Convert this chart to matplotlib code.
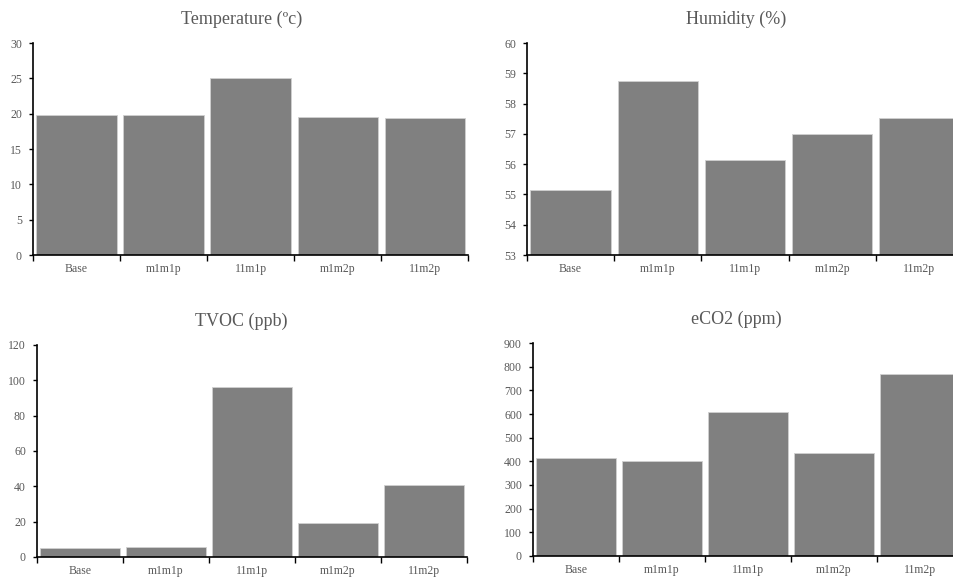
import matplotlib
matplotlib.use('Agg')
import matplotlib.pyplot as plt
import numpy as np

plt.rcParams['font.family'] = ['Liberation Serif', 'DejaVu Serif']

categories = ['Base', 'm1m1p', '11m1p', 'm1m2p', '11m2p']

temperature = [19.8, 19.8, 25.1, 19.6, 19.4]
humidity = [55.15, 58.75, 56.15, 57.0, 57.52]
tvoc = [5.3, 5.9, 96.0, 19.5, 40.7]
eco2 = [412, 401, 608, 435, 769]

titles = ['Temperature (ºc)', 'Humidity (%)', 'TVOC (ppb)', 'eCO2 (ppm)']
ylims = [(0, 30), (53, 60), (0, 120), (0, 900)]
ysteps = [5, 1, 20, 100]

text_color = '#595959'
bar_color = '#808080'

fig = plt.figure(figsize=(9.54, 5.8), dpi=100)

# axes rectangles (left, bottom, width, height) in figure fractions
rects = [
    [0.0346, 0.5603, 0.456, 0.3655],
    [0.5524, 0.5603, 0.457, 0.3655],
    [0.0388, 0.0397, 0.4507, 0.3655],
    [0.5587, 0.0414, 0.4507, 0.3672],
]
title_x = [0.48, 0.48, 0.474, 0.474]

data = [temperature, humidity, tvoc, eco2]
x = np.arange(len(categories))

for i, vals in enumerate(data):
    ax = fig.add_axes(rects[i])
    lo, hi = ylims[i]
    ax.bar(x, np.array(vals) - lo, bottom=lo, width=0.92, color=bar_color,
           edgecolor='#d0d0d0', linewidth=0.6)
    ax.set_xlim(-0.5, len(categories) - 0.5)
    ax.set_ylim(lo, hi)
    ax.set_yticks(np.arange(lo, hi + ysteps[i] / 2, ysteps[i]))

    # excel style: ticks between categories, labels centred
    ax.set_xticks(np.arange(-0.5, len(categories), 1.0))
    ax.set_xticklabels([])
    ax.set_xticks(x, minor=True)
    ax.set_xticklabels(categories, minor=True)
    ax.tick_params(axis='x', which='minor', length=0, pad=6,
                   labelsize=8.5, labelcolor=text_color)
    ax.tick_params(axis='x', which='major', length=4, width=1, direction='out')
    ax.tick_params(axis='y', length=3, width=1, direction='out', pad=5,
                   labelsize=8.5, labelcolor=text_color)

    for side in ['top', 'right']:
        ax.spines[side].set_visible(False)
    ax.spines['left'].set_linewidth(1.2)
    ax.spines['bottom'].set_linewidth(1.2)

    ax.set_title(titles[i], x=title_x[i], pad=14, fontsize=13, color=text_color)

fig.savefig('out.png', dpi=100)
